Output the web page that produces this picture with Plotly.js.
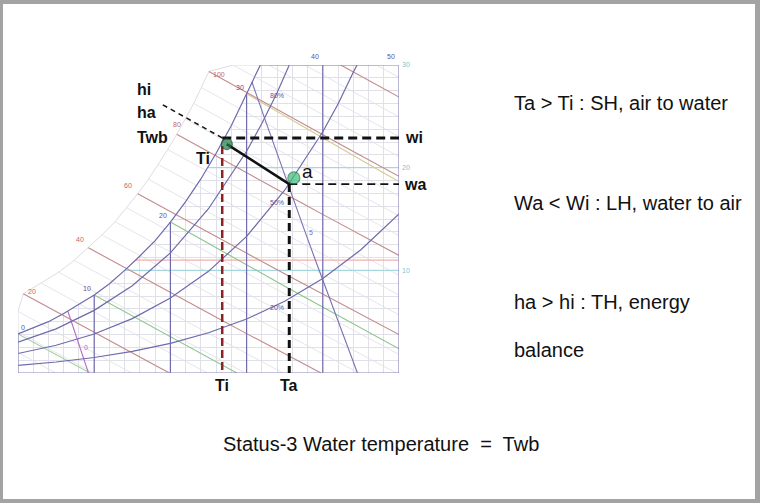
<!DOCTYPE html>
<html><head><meta charset="utf-8">
<script src="https://cdn.plot.ly/plotly-3.0.1.min.js"></script>
<style>html,body{margin:0;padding:0;background:#fff}#chart{width:760px;height:503px}</style>
</head><body><div id="chart"></div>
<script>
// ---- data (dry-bulb °C, humidity ratio g/kg) ----
const satT = [0,2,4,6,8,10,12,14,16,18,20,22,24,26,28,30,31,31.8];
const satW = [3.8,4.4,5.0,5.8,6.7,7.6,8.7,10.0,11.4,12.9,14.7,16.7,18.9,21.4,24.1,27.2,28.9,30.0];
const rh80T = [0,5,10,15,20,25,30,32,34,35,35.6];
const rh80W = [3.0,4.3,6.1,8.5,11.7,16.0,21.6,24.3,27.3,28.9,30.0];
const rh50T = [0,5,10,15,20,25,30,35,40,42,44,44.5];
const rh50W = [1.9,2.7,3.8,5.3,7.3,9.9,13.3,17.8,23.5,26.2,29.3,30.0];
const rh20T = [0,5,10,15,20,25,30,35,40,45,50];
const rh20W = [0.75,1.07,1.51,2.10,2.89,3.92,5.26,6.99,9.20,12.0,15.5];
const rhLabels = ['80%','50%','20%'];
const dryBulbMajor = [10,20,30,40];
const dryBulbLabels = ['0','10','20','30','40','50'];
const enthalpyMajor = [20,40,60,80,100,120];
const enthalpyLabels = ['20','40','60','80','100'];
const enthalpyMinor = [5,10,15,25,30,35,45,50,55,65,70,75,85,90,95,105,110,115,125];
const wetBulbLevels = [0,10,20,30];
const volumeLevels = [0.80,0.90];
const volumeLabels = ['0','5'];
const humidityLabels = ['10','20','30'];
const humidityValues = [10,20,30];
const accentHumidity = [10,20,11];
// state construction
const Ti = 26.8, Ta = 35.6, wi = 22.9, wa = 18.4;
const markerT = [27.4, 36.2], markerW = [22.3, 19.0];
const leaderEndT = 19;

// ---- helpers ----
function interp(xs, ys, x){
  if (x <= xs[0]) return ys[0];
  for (let i=1;i<xs.length;i++){ if (x <= xs[i]){ const t=(x-xs[i-1])/(xs[i]-xs[i-1]); return ys[i-1]+t*(ys[i]-ys[i-1]); } }
  return ys[ys.length-1];
}
const satAt = T => interp(satT, satW, T);
const enthW = (h,T) => (h-1.006*T)*1000/(2501+1.86*T);
const Tmax = satT[satT.length-1];
function bisect(f,a,b){ for(let i=0;i<60;i++){ const m=(a+b)/2; if (f(a)*f(m)<=0) b=m; else a=m; } return (a+b)/2; }
function enthLine(h){
  const f = T => enthW(h,T)-satAt(T);
  let Ts, ext=true;
  if (f(0) <= 0){ Ts = 0; ext=false; }
  else if (enthW(h,Tmax) > 30){ Ts = (h-75.03)/1.0618; ext=false; }
  else Ts = bisect(f,0,Tmax);
  let To = Ts;
  if (ext){ To = Math.max(0, Ts-5); if (enthW(h,To) > 30) To = (h-75.03)/1.0618; }
  const Te = Math.min(50, h/1.006);
  const xs=[], ys=[];
  for (let i=0;i<=12;i++){ const T=To+(Te-To)*i/12; xs.push(T); ys.push(Math.max(0,Math.min(30,enthW(h,T)))); }
  return {x:xs,y:ys,outer:[To,Math.min(30,enthW(h,To))]};
}
function wetLine(tw){
  const ws = satAt(tw);
  const wf = T => ((2501-2.326*tw)*ws - 1006*(T-tw))/(2501+1.86*T-4.186*tw);
  const Te = Math.min(50, tw + (2501-2.326*tw)*ws/1006);
  const xs=[],ys=[];
  for (let i=0;i<=10;i++){ const T=tw+(Te-tw)*i/10; xs.push(T); ys.push(Math.max(0,wf(T))); }
  return {x:xs,y:ys};
}
const Tv = (v,w) => v*101.325/(0.287042*(1+0.001607858*w)) - 273.15;
function volLine(v){
  const g = w => satAt(Tv(v,w)) - w;
  const wtop = bisect(g,0,30);
  const xs=[],ys=[];
  for (let i=0;i<=8;i++){ const w=wtop*i/8; xs.push(Tv(v,w)); ys.push(w); }
  return {x:xs,y:ys};
}

// ---- traces ----
const traces = [];
function line(x,y,color,width,dash){
  traces.push({type:'scatter',mode:'lines',x:x,y:y,line:{color:color,width:width,dash:dash||'solid'},hoverinfo:'skip',showlegend:false});
}
// mask over region beyond saturation (hides grid there)
traces.push({type:'scatter',mode:'lines',x:satT.concat([0,0]),y:satW.concat([30,satW[0]]),fill:'toself',fillcolor:'#ffffff',line:{width:0,color:'rgba(0,0,0,0)'},hoverinfo:'skip',showlegend:false});

// minor enthalpy lines + scale boundary
const outerPts = [];
enthalpyMinor.concat(enthalpyMajor).sort((a,b)=>a-b).forEach(h=>{ const L=enthLine(h); outerPts.push(L.outer); });
enthalpyMinor.forEach(h=>{ const L=enthLine(h); line(L.x,L.y,'#dedee6',0.8); });
const ob = outerPts.filter(p=>p[1] < 30.01);
line(ob.map(p=>p[0]), ob.map(p=>p[1]), '#d8d8e0', 0.9);

// accent horizontals
const accentColors = ['#a6d8e0','#a6d8e0','#f2b0b0'];
accentHumidity.forEach((w,i)=>{
  const Ts = bisect(T=>satAt(T)-w,0,Tmax);
  line([Ts,50],[w,w],accentColors[i],1.2);
});
// wet-bulb lines
const wbColors = ['#a4d0a4','#94c894','#8cc48c','#d2cb94'];
wetBulbLevels.forEach((tw,i)=>{ const L=wetLine(tw); line(L.x,L.y,wbColors[i],1.1); });
// enthalpy major lines
enthalpyMajor.forEach(h=>{ const L=enthLine(h); line(L.x,L.y,'#c48a8a',1.1); });
// specific volume lines
const volColors = ['#b46cc4','#7a70b4'];
volumeLevels.forEach((v,i)=>{ const L=volLine(v); line(L.x,L.y,volColors[i],1.1); });
// RH curves and saturation
const purple = '#6f6aab';
line(rh20T,rh20W,purple,1.2);
line(rh50T,rh50W,purple,1.2);
line(rh80T,rh80W,purple,1.2);
line(satT,satW,purple,1.2);
// dry-bulb major verticals
dryBulbMajor.forEach(T=>{ line([T,T],[0,Math.min(30,satAt(T))],purple,1.2); });
// frame
line([0,0],[0,satW[0]],'#8a86bb',1.2);
line([0,50],[0,0],'#8a86bb',1.2);
line([50,50],[0,30],'#8a86bb',1.2);
line([Tmax,50],[30,30],'#8a86bb',1.2);

// construction lines
line([Ti,Ti],[wi-0.8,0],'#8b2323',2.5,'8px,4px');
line([Ta,Ta],[wa,-0.3],'#111111',3,'8px,5px');
line([Ti,50],[wi,wi],'#111111',3,'9px,5px');
line([Ta,50],[wa,wa],'#111111',1.8,'8px,5px');
const hi = 1.006*Ti + wi*(2501+1.86*Ti)/1000;
line([Ti,leaderEndT],[wi,enthW(hi,leaderEndT)],'#111111',1.5,'5px,4px');
line([markerT[0],Ta],[markerW[0],wa],'#111111',2.6);
traces.push({type:'scatter',mode:'markers',x:markerT,y:markerW,
  marker:{size:[11,12],color:['#1f7a45','#3cc07a'],line:{color:['#0d3d22','#1d6f48'],width:1.2}},
  hoverinfo:'skip',showlegend:false,cliponaxis:false});

// ---- annotations ----
const ann = [];
const tiny = (x,y,text,color,opts)=>ann.push(Object.assign({x:x,y:y,xref:'x',yref:'y',text:text,showarrow:false,
  font:{family:'Arial, "Liberation Sans", sans-serif',size:7,color:color}},opts||{}));
// dry-bulb labels
tiny(0,satW[0],dryBulbLabels[0],'#5a56a0',{xanchor:'left',yanchor:'bottom',xshift:1,yshift:1});
[10,20,30].forEach((T,i)=>tiny(T,satAt(T),dryBulbLabels[i+1],'#5a56a0',{xanchor:'right',yanchor:'bottom',xshift:-1,yshift:1}));
[40,50].forEach((T,i)=>tiny(T,30,dryBulbLabels[i+4],'#5a56a0',{xanchor:'right',yanchor:'bottom',xshift:-2,yshift:3}));
// humidity labels on right
humidityValues.forEach((w,i)=>tiny(50,w,humidityLabels[i],'#7cc4d0',{xanchor:'left',yanchor:'middle',xshift:1}));
// enthalpy labels
const enthShift = [[9,-3],[-8,3],[-10,3],[0,4],[10,-8]];
enthalpyMajor.slice(0,5).forEach((h,i)=>{ const L=enthLine(h); tiny(L.outer[0],L.outer[1],enthalpyLabels[i],'#c06868',{xanchor:'center',yanchor:'bottom',xshift:enthShift[i][0],yshift:enthShift[i][1]}); });
// RH labels
[[rh80T,rh80W],[rh50T,rh50W],[rh20T,rh20W]].forEach((c,i)=>tiny(34,interp(c[0],c[1],34),rhLabels[i],'#5a56a0',{yshift:-3}));
// volume labels
tiny(Tv(0.80,2.5),2.5,volumeLabels[0],'#b46cc4',{xanchor:'left',xshift:2});
tiny(Tv(0.90,13.7),13.7,volumeLabels[1],'#7a70b4',{xanchor:'left',xshift:2});

const bold = (x,y,text,opts)=>ann.push(Object.assign({x:x,y:y,xref:'x',yref:'y',text:'<b>'+text+'</b>',showarrow:false,
  font:{family:'Arial, "Liberation Sans", sans-serif',size:16,color:'#111111'}},opts||{}));
bold(15.3,27.6,'hi',{xanchor:'left'});
bold(15.3,25.4,'ha',{xanchor:'left'});
bold(15.3,22.9,'Twb',{xanchor:'left'});
bold(23.1,20.9,'Ti',{xanchor:'left'});
bold(50,wi,'wi',{xanchor:'left',xshift:4});
bold(50,wa,'wa',{xanchor:'left',xshift:3});
bold(Ti,0,'Ti',{yanchor:'top',yshift:-2});
bold(Ta,0,'Ta',{yanchor:'top',yshift:-2});
ann.push({x:37.0,y:19.6,xref:'x',yref:'y',text:'a',showarrow:false,xanchor:'left',
  font:{family:'Arial, "Liberation Sans", sans-serif',size:19,color:'#111111'}});

const slideFont = 'Arial, "Liberation Sans", sans-serif';
const slideText = ['Ta > Ti : SH, air to water','Wa < Wi : LH, water to air','ha > hi : TH, energy','balance'];
const slideY = [0.795,0.597,0.400,0.304];
slideText.forEach((t,i)=>ann.push({xref:'paper',yref:'paper',x:512/760,y:slideY[i],text:t,showarrow:false,xanchor:'left',yanchor:'middle',
  font:{family:slideFont,size:20,color:'#111111'}}));
ann.push({xref:'paper',yref:'paper',x:381/760,y:0.118,text:'Status-3 Water temperature  =  Twb',showarrow:false,xanchor:'center',yanchor:'middle',
  font:{family:slideFont,size:20,color:'#111111'}});

const frameColor = '#a3a3a3';
const shapes = [
  {type:'rect',xref:'paper',yref:'paper',x0:0,x1:3/760,y0:0,y1:1,fillcolor:frameColor,line:{width:0}},
  {type:'rect',xref:'paper',yref:'paper',x0:0,x1:1,y0:1-4/503,y1:1,fillcolor:frameColor,line:{width:0}},
  {type:'rect',xref:'paper',yref:'paper',x0:1-5/760,x1:1,y0:0,y1:1,fillcolor:frameColor,line:{width:0}},
  {type:'rect',xref:'paper',yref:'paper',x0:0,x1:1,y0:0,y1:4/503,fillcolor:frameColor,line:{width:0}}
];

const layout = {
  width:760,height:503,margin:{l:0,r:0,t:0,b:0},
  paper_bgcolor:'#ffffff',plot_bgcolor:'#ffffff',showlegend:false,
  xaxis:{domain:[18/760,399/760],range:[0,50],dtick:2,tick0:0,showgrid:true,gridcolor:'#e0e0e8',gridwidth:1,
    zeroline:false,showticklabels:false,ticks:'',showline:false,fixedrange:true},
  yaxis:{domain:[130/503,438/503],range:[0,30],dtick:1.25,tick0:0,showgrid:true,gridcolor:'#e0e0e8',gridwidth:1,
    zeroline:false,showticklabels:false,ticks:'',showline:false,fixedrange:true},
  annotations:ann,shapes:shapes
};
Plotly.newPlot('chart',traces,layout,{staticPlot:true,displayModeBar:false});
</script></body></html>
